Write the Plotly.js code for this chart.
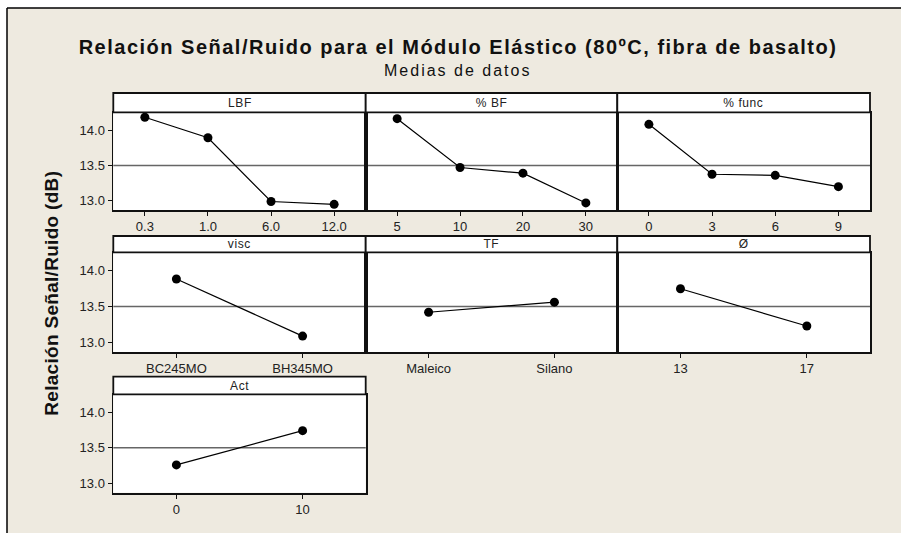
<!DOCTYPE html>
<html>
<head>
<meta charset="utf-8">
<script src="https://cdn.plot.ly/plotly-3.0.1.min.js"></script>
<style>
  html, body { margin: 0; padding: 0; background: #fff; }
  #chart { width: 901px; height: 533px; }
  .gtitle { letter-spacing: 1.5px; }
</style>
</head>
<body>
<div id="chart"></div>
<script>
// ---- Data (means of S/N ratio per factor level) ----
const chartTitle = 'Relación Señal/Ruido para el Módulo Elástico (80ºC, fibra de basalto)';
const chartSubtitle = 'Medias de datos';
const yTitle = 'Relación Señal/Ruido (dB)';

const factorNames = ['LBF', '% BF', '% func', 'visc', 'TF', 'Ø', 'Act'];

const lbfLevels = ['0.3', '1.0', '6.0', '12.0'];
const lbfMeans  = [14.18, 13.89, 12.99, 12.95];

const bfLevels = ['5', '10', '20', '30'];
const bfMeans  = [14.16, 13.47, 13.39, 12.97];

const funcLevels = ['0', '3', '6', '9'];
const funcMeans  = [14.08, 13.375, 13.36, 13.20];

const viscLevels = ['BC245MO', 'BH345MO'];
const viscMeans  = [13.88, 13.09];

const tfLevels = ['Maleico', 'Silano'];
const tfMeans  = [13.42, 13.56];

const diaLevels = ['13', '17'];
const diaMeans  = [13.745, 13.23];

const actLevels = ['0', '10'];
const actMeans  = [13.26, 13.74];

const overallMean = 13.50;
const yTickVals = [13.0, 13.5, 14.0];
const yTickText = ['13.0', '13.5', '14.0'];

// ---- Layout geometry (pixels in a 901x533 page) ----
const W = 901, H = 533;
const px = x => x / W;
const py = y => 1 - y / H;

const colEdges = [[113.3, 365.7], [365.7, 617.3], [617.3, 870]];
const rowGeom = [ // [stripTop, plotTop, plotBottom]
  [93, 112.3, 210],
  [236, 252.3, 352],
  [376.7, 394.3, 492.7]
];

const panels = [
  {name: factorNames[0], levels: lbfLevels,  means: lbfMeans,  row: 0, col: 0},
  {name: factorNames[1], levels: bfLevels,   means: bfMeans,   row: 0, col: 1},
  {name: factorNames[2], levels: funcLevels, means: funcMeans, row: 0, col: 2},
  {name: factorNames[3], levels: viscLevels, means: viscMeans, row: 1, col: 0},
  {name: factorNames[4], levels: tfLevels,   means: tfMeans,   row: 1, col: 1},
  {name: factorNames[5], levels: diaLevels,  means: diaMeans,  row: 1, col: 2},
  {name: factorNames[6], levels: actLevels,  means: actMeans,  row: 2, col: 0}
];

const FONT = 'Liberation Sans, Arial, sans-serif';
const traces = [];
const layout = {
  width: W, height: H,
  margin: {l: 0, r: 0, t: 0, b: 0},
  paper_bgcolor: '#EEEAE0',
  plot_bgcolor: '#FFFFFF',
  showlegend: false,
  font: {family: FONT, color: '#222'},
  title: {
    text: chartTitle,
    x: px(458), xanchor: 'center', xref: 'container',
    y: py(46.7), yanchor: 'middle', yref: 'container',
    font: {family: FONT, size: 20, weight: 'bold', color: '#111'}
  },
  shapes: [],
  annotations: []
};

// page frame: white outside, black top/left border
layout.shapes.push({type: 'rect', xref: 'paper', yref: 'paper', x0: 0, x1: 1, y0: py(8), y1: 1,
  fillcolor: '#FFFFFF', line: {width: 0}, layer: 'below'});
layout.shapes.push({type: 'rect', xref: 'paper', yref: 'paper', x0: 0, x1: px(7), y0: 0, y1: 1,
  fillcolor: '#FFFFFF', line: {width: 0}, layer: 'below'});
layout.shapes.push({type: 'line', xref: 'paper', yref: 'paper', x0: px(7), x1: 1, y0: py(8), y1: py(8),
  line: {color: '#000', width: 1.5}});
layout.shapes.push({type: 'line', xref: 'paper', yref: 'paper', x0: px(7), x1: px(7), y0: 0, y1: py(8),
  line: {color: '#000', width: 1.5}});

panels.forEach((p, i) => {
  const n = i + 1;
  const xa = n === 1 ? 'xaxis' : 'xaxis' + n;
  const ya = n === 1 ? 'yaxis' : 'yaxis' + n;
  const xr = n === 1 ? 'x' : 'x' + n;
  const yr = n === 1 ? 'y' : 'y' + n;
  const [xl, xrgt] = colEdges[p.col];
  const [st, pt, pb] = rowGeom[p.row];

  traces.push({
    type: 'scatter', mode: 'lines+markers',
    x: p.levels, y: p.means, xaxis: xr, yaxis: yr,
    line: {color: '#000', width: 1.2},
    marker: {color: '#000', size: 9},
    hoverinfo: 'skip'
  });

  layout[xa] = {
    type: 'category', domain: [px(xl), px(xrgt)], anchor: yr,
    range: [-0.5, p.levels.length - 0.5],
    showline: true, mirror: true, linecolor: '#111', linewidth: 1.8,
    ticks: 'outside', ticklen: 4, tickwidth: 1, tickcolor: '#111',
    tickfont: {family: FONT, size: 13, color: '#222'},
    showgrid: false, zeroline: false, fixedrange: true
  };
  const firstCol = p.col === 0;
  layout[ya] = {
    domain: [py(pb), py(pt)], anchor: xr,
    range: [12.87, 14.25],
    tickvals: yTickVals, ticktext: yTickText,
    showticklabels: firstCol,
    ticks: firstCol ? 'outside' : '', ticklen: 4, tickwidth: 1, tickcolor: '#111',
    tickfont: {family: FONT, size: 13, color: '#222'},
    showline: true, mirror: true, linecolor: '#111', linewidth: 1.8,
    showgrid: false, zeroline: false, fixedrange: true
  };

  // overall mean reference line
  layout.shapes.push({type: 'line', xref: xr + ' domain', yref: yr, x0: 0, x1: 1,
    y0: overallMean, y1: overallMean, line: {color: '#666', width: 1.5}, layer: 'below'});

  // strip box
  layout.shapes.push({type: 'rect', xref: 'paper', yref: 'paper',
    x0: px(xl), x1: px(xrgt), y0: py(pt), y1: py(st),
    fillcolor: '#FFFFFF', line: {color: '#111', width: 1.8}});

  layout.annotations.push({
    xref: 'paper', yref: 'paper', x: px((xl + xrgt) / 2), y: py((st + pt) / 2),
    xanchor: 'center', yanchor: 'middle', showarrow: false,
    text: p.name, font: {family: FONT, size: 12, color: '#222'}
  });
});

// subtitle
layout.annotations.push({
  xref: 'paper', yref: 'paper', x: px(457), y: py(70), xanchor: 'center', yanchor: 'middle',
  showarrow: false, text: chartSubtitle, font: {family: FONT, size: 16, color: '#111'}
});
// y axis title
layout.annotations.push({
  xref: 'paper', yref: 'paper', x: px(51), y: py(293), xanchor: 'center', yanchor: 'middle',
  showarrow: false, textangle: -90, text: yTitle,
  font: {family: FONT, size: 19, weight: 'bold', color: '#111'}
});

Plotly.newPlot('chart', traces, layout, {staticPlot: true, displayModeBar: false}).then(() => {
  document.querySelectorAll('.annotation-text').forEach(t => {
    const s = t.textContent;
    if (s === chartSubtitle) t.style.letterSpacing = '2px';
    else if (s === yTitle) t.style.letterSpacing = '0.3px';
    else t.style.letterSpacing = '0.6px';
  });
});
</script>
</body>
</html>
